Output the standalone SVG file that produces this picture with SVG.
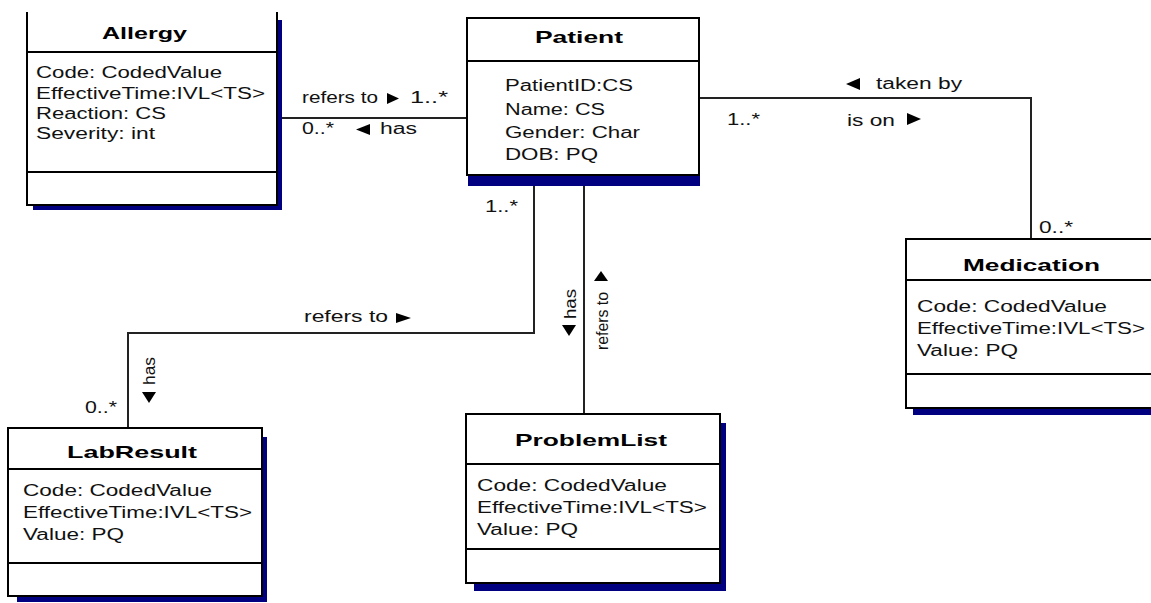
<svg xmlns="http://www.w3.org/2000/svg" width="1151" height="603" viewBox="0 0 1151 603">
  <style>
    .box { fill: #fff; stroke: #000; stroke-width: 2; }
    .sep { stroke: #000; stroke-width: 2; fill: none; }
    .shadow { fill: #000080; }
    .title { font-family: "Liberation Sans", Arial, sans-serif; font-size: 17px; font-weight: bold; fill: #000; }
    .attr { font-family: "Liberation Sans", Arial, sans-serif; font-size: 16px; fill: #111; }
    .lbl { font-family: "Liberation Sans", Arial, sans-serif; font-size: 16px; fill: #111; }
    .conn { stroke: #222; stroke-width: 2; fill: none; }
    .tri { fill: #000; }
  </style>
  <rect width="1151" height="603" fill="#fff"/>

  <!-- associations -->
  <g id="connectors">
    <path class="conn" d="M282,118 H467"/>
    <path class="conn" d="M699,98 H1031 V239"/>
    <path class="conn" d="M534,186 V333 H128 V428"/>
    <path class="conn" d="M584,186 V414"/>

    <!-- Allergy / Patient -->
    <text class="lbl" x="302" y="103" textLength="76" lengthAdjust="spacingAndGlyphs">refers to</text>
    <polygon class="tri" points="387,93 399,98.5 387,104"/>
    <text class="lbl" x="410" y="103" textLength="38" lengthAdjust="spacingAndGlyphs">1..*</text>
    <text class="lbl" x="302" y="134" textLength="32" lengthAdjust="spacingAndGlyphs">0..*</text>
    <polygon class="tri" points="370,124 356,129.5 370,135"/>
    <text class="lbl" x="380" y="134" textLength="37" lengthAdjust="spacingAndGlyphs">has</text>

    <!-- Patient / Medication -->
    <polygon class="tri" points="860,78 846,84 860,90"/>
    <text class="lbl" x="876" y="89" textLength="86" lengthAdjust="spacingAndGlyphs">taken by</text>
    <text class="lbl" x="727" y="125" textLength="33" lengthAdjust="spacingAndGlyphs">1..*</text>
    <text class="lbl" x="847" y="126" textLength="48" lengthAdjust="spacingAndGlyphs">is on</text>
    <polygon class="tri" points="907,113 921,119 907,125"/>
    <text class="lbl" x="1039" y="233" textLength="34" lengthAdjust="spacingAndGlyphs">0..*</text>

    <!-- Patient / LabResult -->
    <text class="lbl" x="485" y="212" textLength="33" lengthAdjust="spacingAndGlyphs">1..*</text>
    <text class="lbl" x="304" y="322" textLength="84" lengthAdjust="spacingAndGlyphs">refers to</text>
    <polygon class="tri" points="396,313 411,318 396,323"/>
    <text class="lbl" x="85" y="413" textLength="32" lengthAdjust="spacingAndGlyphs">0..*</text>
    <text class="lbl" transform="translate(155,385) rotate(-90)" textLength="28" lengthAdjust="spacingAndGlyphs">has</text>
    <polygon class="tri" points="142,392 156,392 149,403"/>

    <!-- Patient / ProblemList -->
    <text class="lbl" transform="translate(576,319) rotate(-90)" textLength="30" lengthAdjust="spacingAndGlyphs">has</text>
    <polygon class="tri" points="562,325 576,325 569,336"/>
    <text class="lbl" transform="translate(608,350) rotate(-90)" textLength="58" lengthAdjust="spacingAndGlyphs">refers to</text>
    <polygon class="tri" points="594,281 608,281 601,271"/>
  </g>

  <!-- Allergy class (top edge runs off the sheet) -->
  <g id="allergy">
    <rect class="shadow" x="277" y="20" width="5" height="190"/>
    <rect class="shadow" x="33" y="205" width="249" height="5"/>
    <path d="M27,12 V205 H277 V12" fill="#fff" stroke="#000" stroke-width="2"/>
    <path class="sep" d="M27,52 H277 M27,172 H277"/>
    <text class="title" x="102" y="39" textLength="85" lengthAdjust="spacingAndGlyphs">Allergy</text>
    <text class="attr" x="36" y="78" textLength="186" lengthAdjust="spacingAndGlyphs">Code: CodedValue</text>
    <text class="attr" x="36" y="98.5" textLength="229" lengthAdjust="spacingAndGlyphs">EffectiveTime:IVL&lt;TS&gt;</text>
    <text class="attr" x="36" y="119" textLength="130" lengthAdjust="spacingAndGlyphs">Reaction: CS</text>
    <text class="attr" x="36" y="139" textLength="119" lengthAdjust="spacingAndGlyphs">Severity: int</text>
  </g>

  <!-- Patient class -->
  <g id="patient">
    <rect class="shadow" x="468" y="175" width="232" height="11"/>
    <rect class="box" x="467" y="18" width="232" height="157"/>
    <path class="sep" d="M467,61 H699"/>
    <text class="title" x="535" y="43" textLength="88" lengthAdjust="spacingAndGlyphs">Patient</text>
    <text class="attr" x="505" y="91" textLength="128" lengthAdjust="spacingAndGlyphs">PatientID:CS</text>
    <text class="attr" x="505" y="115" textLength="100" lengthAdjust="spacingAndGlyphs">Name: CS</text>
    <text class="attr" x="505" y="137.5" textLength="135" lengthAdjust="spacingAndGlyphs">Gender: Char</text>
    <text class="attr" x="505" y="160" textLength="93" lengthAdjust="spacingAndGlyphs">DOB: PQ</text>
  </g>

  <!-- Medication class (right edge runs off the sheet) -->
  <g id="medication">
    <rect class="shadow" x="913" y="408" width="250" height="7"/>
    <rect class="box" x="906" y="239" width="260" height="169"/>
    <path class="sep" d="M906,280 H1166 M906,374 H1166"/>
    <text class="title" x="963" y="271" textLength="137" lengthAdjust="spacingAndGlyphs">Medication</text>
    <text class="attr" x="917" y="312" textLength="190" lengthAdjust="spacingAndGlyphs">Code: CodedValue</text>
    <text class="attr" x="917" y="334" textLength="228" lengthAdjust="spacingAndGlyphs">EffectiveTime:IVL&lt;TS&gt;</text>
    <text class="attr" x="917" y="356" textLength="101" lengthAdjust="spacingAndGlyphs">Value: PQ</text>
  </g>

  <!-- LabResult class -->
  <g id="labresult">
    <rect class="shadow" x="262" y="437" width="5" height="165"/>
    <rect class="shadow" x="17" y="596" width="250" height="6"/>
    <rect class="box" x="8" y="428" width="254" height="168"/>
    <path class="sep" d="M8,469 H262 M8,563 H262"/>
    <text class="title" x="67" y="458" textLength="130" lengthAdjust="spacingAndGlyphs">LabResult</text>
    <text class="attr" x="23" y="496" textLength="189" lengthAdjust="spacingAndGlyphs">Code: CodedValue</text>
    <text class="attr" x="23" y="518" textLength="229" lengthAdjust="spacingAndGlyphs">EffectiveTime:IVL&lt;TS&gt;</text>
    <text class="attr" x="23" y="540" textLength="101" lengthAdjust="spacingAndGlyphs">Value: PQ</text>
  </g>

  <!-- ProblemList class -->
  <g id="problemlist">
    <rect class="shadow" x="720" y="423" width="6" height="168"/>
    <rect class="shadow" x="474" y="583" width="252" height="8"/>
    <rect class="box" x="466" y="414" width="254" height="169"/>
    <path class="sep" d="M466,464 H720 M466,549 H720"/>
    <text class="title" x="515" y="446" textLength="152" lengthAdjust="spacingAndGlyphs">ProblemList</text>
    <text class="attr" x="477" y="491" textLength="190" lengthAdjust="spacingAndGlyphs">Code: CodedValue</text>
    <text class="attr" x="477" y="513" textLength="230" lengthAdjust="spacingAndGlyphs">EffectiveTime:IVL&lt;TS&gt;</text>
    <text class="attr" x="477" y="535" textLength="101" lengthAdjust="spacingAndGlyphs">Value: PQ</text>
  </g>
</svg>
